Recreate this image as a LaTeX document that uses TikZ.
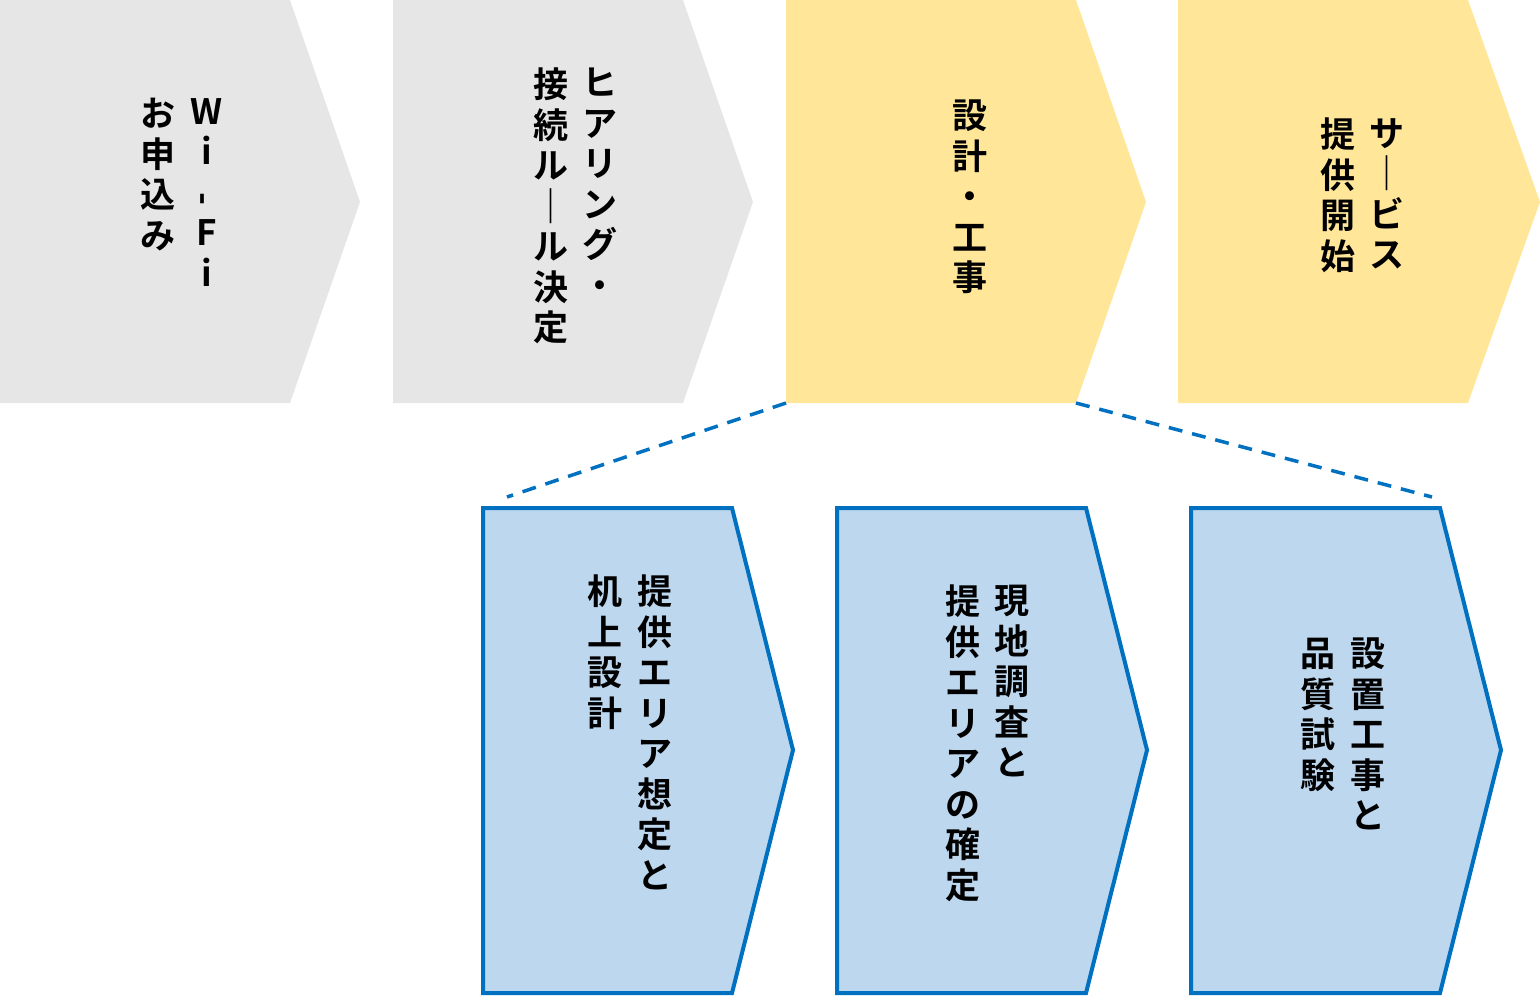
\documentclass[tikz,border=0pt]{standalone}
\usepackage{fontspec}
\newfontfamily\cjk{Noto Sans CJK JP}[BoldFont={* Bold}]
\usetikzlibrary{positioning}
\definecolor{stepgray}{HTML}{E6E6E6}
\definecolor{stepyellow}{HTML}{FFE699}
\definecolor{subblue}{HTML}{BDD7EE}
\definecolor{lineblue}{HTML}{0070C0}
\tikzset{
  graybox/.style={fill=stepgray, draw=none},
  yellowbox/.style={fill=stepyellow, draw=none},
  bluebox/.style={fill=subblue, draw=lineblue, line width=4pt},
  vtext/.style={anchor=north, inner sep=0, align=center,
    font=\cjk\bfseries\fontsize{35}{40.5}\selectfont},
  link/.style={draw=lineblue, line width=3.5pt, dash pattern=on 14pt off 10pt}
}
\begin{document}
\begin{tikzpicture}[x=1pt,y=-1pt]
\useasboundingbox (0,0) rectangle (1540,997);
% upper chevrons
\fill[graybox] (0,0) -- (290,0) -- (360,202) -- (290,403) -- (0,403) -- cycle;
\fill[graybox] (393,0) -- (683,0) -- (753,202) -- (683,403) -- (393,403) -- cycle;
\fill[yellowbox] (786,0) -- (1076,0) -- (1146,202) -- (1076,403) -- (786,403) -- cycle;
\fill[yellowbox] (1178,0) -- (1468,0) -- (1540,202) -- (1468,403) -- (1178,403) -- cycle;
% lower chevrons
\draw[bluebox] (483,508) -- (732,508) -- (793,750) -- (732,993) -- (483,993) -- cycle;
\draw[bluebox] (837,508) -- (1086,508) -- (1147,750) -- (1086,993) -- (837,993) -- cycle;
\draw[bluebox] (1191,508) -- (1440,508) -- (1501,750) -- (1440,993) -- (1191,993) -- cycle;
% dashed links
\coordinate (la) at (786,403); \coordinate (lb) at (507,497);
\coordinate (ra) at (1076,403); \coordinate (rb) at (1432,497);
\draw[link] (la) -- (lb);
\draw[link] (ra) -- (rb);
% texts
\node[vtext] (t1a) at (207,98) {W\\i\\\rotatebox{90}{-}\\F\\i};
\node[vtext] (t1b) at (158,98) {お\\申\\込\\み};
\node[vtext] (t2a) at (600,68) {ヒ\\ア\\リ\\ン\\グ\\・};
\node[vtext] (t2b) at (551,68) {接\\続\\ル\\｜\\ル\\決\\定};
\node[vtext] (t3) at (970,100) {設\\計\\・\\工\\事};
\node[vtext] (t4a) at (1387,118) {サ\\｜\\ビ\\ス};
\node[vtext] (t4b) at (1338,118) {提\\供\\開\\始};
\node[vtext] (s1a) at (655,575) {提\\供\\エ\\リ\\ア\\想\\定\\と};
\node[vtext] (s1b) at (605,575) {机\\上\\設\\計};
\node[vtext] (s2a) at (1012,585) {現\\地\\調\\査\\と};
\node[vtext] (s2b) at (963,585) {提\\供\\エ\\リ\\ア\\の\\確\\定};
\node[vtext] (s3a) at (1368,638) {設\\置\\工\\事\\と};
\node[vtext] (s3b) at (1318,638) {品\\質\\試\\験};
\end{tikzpicture}
\end{document}
